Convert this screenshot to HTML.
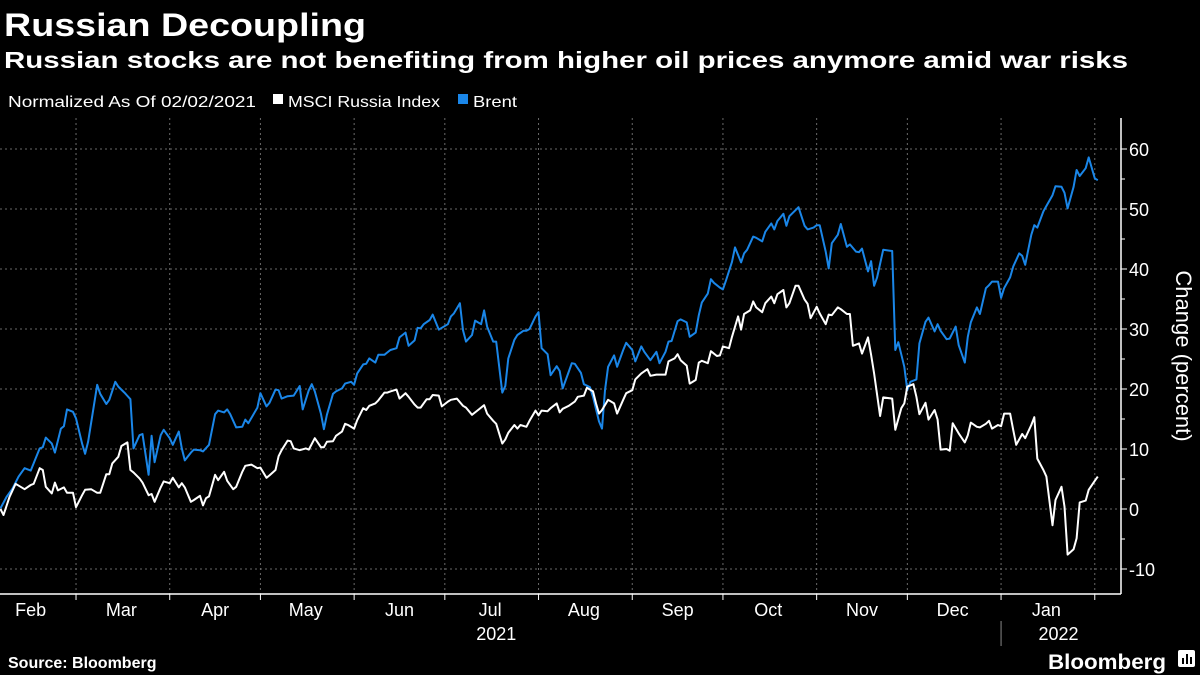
<!DOCTYPE html>
<html><head><meta charset="utf-8">
<style>
html,body{margin:0;padding:0;background:#000;width:1200px;height:675px;overflow:hidden}
svg{display:block;font-family:"Liberation Sans",sans-serif}
</style></head>
<body>
<svg id="chart" width="1200" height="675" viewBox="0 0 1200 675">
<text x="4" y="36" fill="#fff" font-size="32" font-weight="bold" textLength="362" lengthAdjust="spacingAndGlyphs">Russian Decoupling</text>
<text x="4" y="68" fill="#fff" font-size="23" font-weight="bold" textLength="1124" lengthAdjust="spacingAndGlyphs">Russian stocks are not benefiting from higher oil prices anymore amid war risks</text>
<g>
<text x="8" y="107" fill="#fff" font-size="16" textLength="248" lengthAdjust="spacingAndGlyphs">Normalized As Of 02/02/2021</text>
<rect x="273" y="94" width="10" height="10" fill="#fff"/>
<text x="288" y="107" fill="#fff" font-size="16" textLength="152" lengthAdjust="spacingAndGlyphs">MSCI Russia Index</text>
<rect x="458" y="94" width="10" height="10" fill="#1a86e8"/>
<text x="473" y="107" fill="#fff" font-size="16" textLength="44" lengthAdjust="spacingAndGlyphs">Brent</text>
</g>
<g id="grid"></g>
<g id="axes"></g>
<g id="series"></g>
<text x="0" y="0" fill="#fff" font-size="22" transform="translate(1176,356) rotate(90)" text-anchor="middle">Change (percent)</text>
<text x="8" y="668" fill="#fff" font-size="16" font-weight="bold">Source: Bloomberg</text>
<text x="1048" y="669" fill="#fff" font-size="21" font-weight="bold" textLength="118" lengthAdjust="spacingAndGlyphs">Bloomberg</text>
<g><rect x="1178" y="650" width="17" height="17" rx="2" fill="#fff"/><rect x="1182" y="658" width="2" height="6" fill="#000"/><rect x="1186" y="654" width="2" height="10" fill="#000"/><rect x="1190" y="657" width="2" height="7" fill="#000"/></g>
</svg>
<script>
const yTicks = [-10, 0, 10, 20, 30, 40, 50, 60];
const yMinor = [-5, 5, 15, 25, 35, 45, 55];
const monthStarts = [27, 58, 88, 119, 149, 180, 211, 241, 272, 302, 333, 364];
const monthLabels = ["Feb","Mar","Apr","May","Jun","Jul","Aug","Sep","Oct","Nov","Dec","Jan"];
const monthMids = [12, 42, 73, 103, 134, 164, 195, 226, 256, 287, 317, 348];
const yearLabels = ["2021", "2022"];
const yearDays = [166, 352];
const msciDays = [2,3,5,7,10,12,13,15,16,17,19,20,21,23,24,26,27,29,30,32,34,35,37,38,39,41,42,44,45,46,48,49,51,52,53,55,56,58,59,61,62,63,65,66,68,69,70,71,73,74,76,77,79,80,82,83,85,87,88,90,91,93,94,95,97,98,99,101,103,104,106,108,109,110,112,113,115,116,117,119,120,122,123,124,126,127,129,130,131,133,134,136,137,139,140,141,143,144,145,147,148,150,151,153,155,156,158,160,162,163,165,166,168,169,170,172,173,174,176,177,179,180,181,183,184,186,187,188,190,192,193,195,196,198,199,200,201,203,205,206,208,209,211,212,214,216,217,219,222,223,225,226,227,229,230,232,233,234,236,237,239,240,241,243,244,246,247,248,250,251,252,254,255,257,258,259,261,262,263,265,266,268,269,270,272,273,275,276,277,279,280,282,283,284,286,287,289,290,291,293,294,297,298,300,301,302,304,305,306,308,309,311,312,313,315,316,317,319,321,322,323,325,326,328,329,330,332,333,334,336,337,338,340,341,343,344,345,347,348,350,351,353,354,355,357,358,359,361,362,364,365];
const msciValues = [0,-1,2,4.2,3.3,4,4.2,6.8,6.5,3.7,2.6,4.4,3.1,3.6,2.7,2.7,0.3,2.3,3.2,3.3,2.7,2.7,5.8,5.8,7.6,8.7,10.5,11.1,6.5,6.1,5.1,4.4,2.3,2.5,1.2,3.6,4.6,4.3,5.2,3.6,4.3,3.6,1.2,1.5,2.2,0.6,1.8,2.1,5.7,4.8,6.2,4.7,3.3,3.7,6.2,7.2,7.4,6.8,6.9,5.2,5.6,6.5,8.8,9.8,11.4,11.3,10.1,9.8,10.1,9.9,11.8,10.3,10.3,11.2,11.3,12.2,12.9,14.2,14,13.4,14.8,16.8,16.5,17.2,17.6,18.1,19.4,19.4,19.6,19.9,18.4,19.3,18.7,17.4,16.9,16.9,18.3,18.3,19,18.9,17.1,17.9,18.2,18.4,17.2,16.9,15.7,16.5,17.3,15.9,14.7,14.2,10.9,11.6,12.7,14,13.4,14,13.7,14.7,16.4,15.6,16.4,16.3,16.8,17.6,16.1,16.7,17.2,17.9,18.7,18.9,20.2,19.6,17.6,15.9,16.5,18.2,17.6,15.9,18.2,19.3,19.8,21.6,22.6,23.3,22.2,22.4,22.4,24.6,25.1,25.8,24.8,23.9,20.9,21.5,24.4,24.7,24.3,26.3,25.5,25.6,27.1,26.8,28.7,32.1,29.9,32.5,33.1,34.6,33.6,32.8,34.3,35.4,34.3,35.8,36.5,33.6,34.3,37.2,37.2,34.9,34.2,31.8,33.7,32.6,30.8,32.4,32.3,33.6,33.3,32.5,32.5,27.2,27.6,25.9,28.6,25.7,22.6,15.5,18.6,18.4,13.2,16.8,17.6,20.4,20.8,18.7,15.8,17.7,14.9,16.5,14.9,9.9,10,9.7,14.3,12.6,11.1,12.3,14.4,13.7,13.6,14.2,14.7,13.4,14,13.8,15.9,15.9,13.2,10.7,12.5,11.8,14,15.3,8.4,6.5,5.4,-2.7,1.5,3.7,0.4,-7.6,-6.7,-4.9,1.1,1.4,3.2,4.7,5.4];
const brentDays = [2,4,6,8,10,12,15,16,17,19,20,22,23,24,26,27,29,30,31,34,35,37,38,40,41,43,45,46,48,49,51,52,53,55,56,58,59,61,62,63,65,66,68,69,71,73,74,76,77,78,80,82,83,84,87,88,90,91,93,94,95,97,99,101,102,104,105,106,108,109,110,112,113,115,116,118,119,120,122,123,124,126,127,129,130,131,133,134,136,137,139,140,141,142,144,145,147,148,150,151,152,154,155,156,158,159,161,162,163,165,166,168,169,170,172,173,175,176,177,179,180,181,183,184,186,187,188,190,191,192,194,195,197,198,200,201,202,203,205,206,208,209,211,212,214,215,217,219,220,222,223,224,226,227,229,230,232,233,234,236,237,238,240,241,242,244,245,247,248,249,251,252,254,255,257,258,259,261,262,263,265,266,268,269,271,272,273,275,276,277,279,280,282,283,285,286,287,289,290,291,292,294,297,298,299,301,302,303,305,306,308,309,311,312,313,315,316,318,319,321,322,323,325,326,328,329,330,332,333,334,336,337,339,340,341,343,344,345,347,348,350,351,353,354,355,357,358,359,361,362,364,365];
const brentValues = [0.1,2,3.4,5.4,6.8,6.4,10.1,10.3,11.9,10.9,9.4,13.4,13.8,16.6,16.2,15.1,10.9,9.2,11.2,20.7,19.2,17.5,18.2,21.2,20.4,19.4,18.3,10.1,12.3,12.5,5.7,12.2,7.8,12.3,13.2,11.8,10.7,12.9,10.1,8.1,9.4,9.9,9.8,9.6,10.7,15.8,16.4,16.1,16.6,15.8,13.6,13.7,14.9,14.3,16.9,19.3,17.1,17.7,19.9,19.8,18.4,18.8,18.9,20.5,16.6,19.8,20.8,19.6,15.9,13.3,15.7,19.2,19.6,20.1,20.9,21.2,20.7,22.6,24.1,24.2,25.1,24.4,25.7,25.7,26.1,26.5,26.8,28.6,29.4,27.2,28.1,30.2,30.1,30.8,31.5,32.4,29.9,30.2,30.8,32.1,32.6,34.3,29.8,27.9,29,31.4,30.8,33.1,30.4,27.9,27.9,19.4,20.5,25.1,28.2,29,29.7,29.7,30,32.1,32.8,26.8,25.8,22.3,23.8,23,20.1,22.9,24.3,24.2,22.7,20.8,20.3,18.7,14.6,13.4,19.8,23.7,25.6,23.7,26.5,27.7,26.5,24.6,27.1,26.2,24.8,26.2,24.3,26.2,27.9,28,31.3,31.6,31.1,28.7,29.4,32.3,34.4,35.9,38.3,37.7,36.9,36.6,38.1,41.2,43.6,41.1,42.6,43.2,45.4,45.2,44.6,46.2,47.6,46.6,48,49.2,47.2,48.8,49.8,50.3,47.2,46.6,46.9,47.3,47.3,42.9,40.1,44.3,45.7,47.5,43.7,44.1,42.9,42.8,43.4,39.6,41.3,37.2,38.6,43.2,43,26.5,27.8,23.7,19.8,21.2,21.6,27.6,31.2,31.9,29.6,30.8,29.7,28.3,28.4,30.4,27.3,24.4,28.7,31.1,33.6,32.5,36.8,37.3,37.9,37.9,35.2,36.8,38.6,40.4,42.6,42.2,40.7,45.7,47.3,46.9,49.6,50.5,52.3,53.8,53.7,52.7,50.1,53.7,56.5,55.5,56.8,58.6,55.1,54.8];

const NS = "http://www.w3.org/2000/svg";
const plotTop = 118, plotBottom = 594, plotRight = 1121;
function xScale(d) { return -5.6 + d * 3.023; }
function yScale(v) { return 509 - v * 6; }
function mk(tag, attrs, parent) {
  const el = document.createElementNS(NS, tag);
  for (const k in attrs) el.setAttribute(k, attrs[k]);
  parent.appendChild(el);
  return el;
}
const grid = document.getElementById('grid');
const axes = document.getElementById('axes');
const series = document.getElementById('series');

yTicks.forEach(v => {
  const y = yScale(v);
  const gl = mk('line', {x1: 0, x2: plotRight, y1: y, y2: y, stroke: '#6a6a6a', 'stroke-width': 1, 'stroke-dasharray': '2,3'}, grid);
  
  
  const tk = mk('line', {x1: plotRight, x2: plotRight + 6, y1: y, y2: y, stroke: '#fff', 'stroke-width': 1}, axes);
  
  
  const t = mk('text', {x: plotRight + 8, y: y + 7, fill: '#fff', 'font-size': 18}, axes);
  t.textContent = v;
  
  
});
yMinor.forEach(v => {
  const y = yScale(v);
  const tk = mk('line', {x1: plotRight, x2: plotRight + 4, y1: y, y2: y, stroke: '#fff', 'stroke-width': 1}, axes);
  
  
});
monthStarts.forEach(d => {
  const x = xScale(d);
  const gl = mk('line', {x1: x, x2: x, y1: plotTop, y2: plotBottom, stroke: '#6a6a6a', 'stroke-width': 1, 'stroke-dasharray': '2,3'}, grid);
  
  
  const tk = mk('line', {x1: x, x2: x, y1: plotBottom, y2: plotBottom + 6, stroke: '#fff', 'stroke-width': 1}, axes);
  
  
});
monthLabels.forEach((m, i) => {
  const t = mk('text', {x: xScale(monthMids[i]), y: 616, fill: '#fff', 'font-size': 18, 'text-anchor': 'middle'}, axes);
  t.textContent = m;
  
  
});
yearLabels.forEach((yl, i) => {
  const t = mk('text', {x: xScale(yearDays[i]), y: 640, fill: '#fff', 'font-size': 18, 'text-anchor': 'middle'}, axes);
  t.textContent = yl;
  
  
});
const sep = mk('line', {x1: xScale(monthStarts[10]), x2: xScale(monthStarts[10]), y1: 621, y2: 646, stroke: '#888', 'stroke-width': 1}, axes);


const xa = mk('line', {x1: 0, x2: plotRight, y1: plotBottom, y2: plotBottom, stroke: '#fff', 'stroke-width': 1.5}, axes);


const ya = mk('line', {x1: plotRight, x2: plotRight, y1: plotTop, y2: plotBottom, stroke: '#fff', 'stroke-width': 1.5}, axes);



function pathFor(days, vals) {
  return days.map((d, i) => (i ? 'L' : 'M') + Math.max(0, xScale(d)).toFixed(1) + ',' + yScale(vals[i]).toFixed(1)).join('');
}
const pb = mk('path', {d: pathFor(brentDays, brentValues), fill: 'none', stroke: '#1a86e8', 'stroke-width': 2, 'stroke-linejoin': 'round'}, series);


const pm = mk('path', {d: pathFor(msciDays, msciValues), fill: 'none', stroke: '#ffffff', 'stroke-width': 2, 'stroke-linejoin': 'round'}, series);


</script>
</body></html>
